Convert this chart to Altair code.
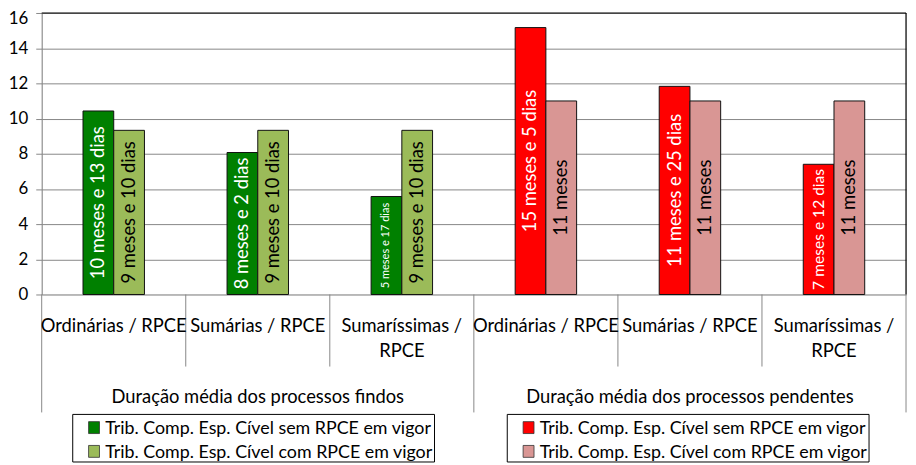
import altair as alt
import pandas as pd

# ---------------- data ----------------
grupos = ["Duração média dos processos findos", "Duração média dos processos pendentes"]
categorias = ["Ordinárias / RPCE", "Sumárias / RPCE", "Sumaríssimas /\nRPCE"]
series = ["Trib. Comp. Esp. Cível sem RPCE em vigor", "Trib. Comp. Esp. Cível com RPCE em vigor"]
ticks_y = [0, 2, 4, 6, 8, 10, 12, 14, 16]

findos_sem = [10.43, 8.07, 5.57]
findos_com = [9.33, 9.33, 9.33]
pend_sem = [15.17, 11.83, 7.40]
pend_com = [11.0, 11.0, 11.0]

rot_findos_sem = ["10 meses e 13 dias", "8 meses e 2 dias", "5 meses e 17 dias"]
rot_findos_com = ["9 meses e 10 dias", "9 meses e 10 dias", "9 meses e 10 dias"]
rot_pend_sem = ["15 meses e 5 dias", "11 meses e 25 dias", "7 meses e 12 dias"]
rot_pend_com = ["11 meses", "11 meses", "11 meses"]

cores_findos = ["#008000", "#9BBB59"]
cores_pend = ["#FF0000", "#D99694"]

# ---------------- tables ----------------
linhas, chaves = [], []
blocos = [
    (findos_sem, findos_com, rot_findos_sem, rot_findos_com),
    (pend_sem, pend_com, rot_pend_sem, rot_pend_com),
]
for gi, (sem, com, rs, rc) in enumerate(blocos):
    for ci, cat in enumerate(categorias):
        chave = f"{gi}-{ci}"
        chaves.append(chave)
        linhas.append(dict(chave=chave, grupo=grupos[gi], categoria=cat, serie=series[0],
                           gs=f"{gi}-0", valor=sem[ci], rotulo=rs[ci]))
        linhas.append(dict(chave=chave, grupo=grupos[gi], categoria=cat, serie=series[1],
                           gs=f"{gi}-1", valor=com[ci], rotulo=rc[ci]))
df = pd.DataFrame(linhas)
df_cats = pd.DataFrame({"chave": chaves, "categoria": categorias * len(grupos)})
df_grupos = pd.DataFrame({"chave": [f"{gi}-1" for gi in range(len(grupos))], "grupo": grupos})

W, H = 872, 284
FONT = "Lato"
FS = 18.5
FS_EIXO = 17
FS_LEG = 18
GRID = "#878787"
BANDA = W / len(chaves)
LARG = 31  # bar width in px

EIXO_Y = alt.Axis(values=ticks_y, title=None, grid=True,
                  gridColor=GRID, domainColor=GRID, tickColor=GRID, tickSize=6,
                  labelPadding=8, labelFontSize=FS_EIXO, labelFont=FONT,
                  labelColor="black", labelOverlap=False,
                  labelOffset=alt.expr(f"datum.value == {ticks_y[-1]} ? 6 : 0"))


def xenc(band=None):
    kw = {}
    if band is not None:
        kw["bandPosition"] = band
    return alt.X("chave:N", scale=alt.Scale(domain=chaves, paddingInner=0, paddingOuter=0),
                 axis=None, **kw)


def yenc(campo):
    return alt.Y(campo, scale=alt.Scale(domain=[0, 16], nice=False), axis=EIXO_Y)


xoff = alt.XOffset("serie:N", scale=alt.Scale(
    domain=series, paddingInner=0, paddingOuter=0,
    range=[BANDA / 2 - LARG, BANDA / 2 + LARG]))

barras = alt.Chart(df).mark_bar(stroke="#111111", strokeWidth=1).encode(
    x=xenc(),
    xOffset=xoff,
    y=yenc("valor:Q"),
    color=alt.Color("gs:N", scale=alt.Scale(domain=["0-0", "0-1", "1-0", "1-1"],
                                            range=cores_findos + cores_pend), legend=None),
)

rotulos = alt.Chart(df).transform_calculate(
    meio="datum.valor / 2",
    fs=f"datum.valor < 6 ? {FS*0.6:.2f} : (datum.valor < 8 ? {FS*0.85:.2f} : {FS})",
).mark_text(angle=270, align="center", baseline="middle", font=FONT).encode(
    x=xenc(),
    xOffset=xoff,
    y=yenc("meio:Q"),
    text="rotulo:N",
    size=alt.Size("fs:Q", scale=None),
    color=alt.condition(alt.FieldEqualPredicate(field="serie", equal=series[0]),
                        alt.value("white"), alt.value("black")),
)

# borders top / right (plot-area frame)
topo = alt.Chart(pd.DataFrame({"v": [ticks_y[-1]]})).mark_rule(
    color="#000000", strokeWidth=1.2).encode(y=yenc("v:Q"))
direita = alt.Chart(df_cats.tail(1)).mark_rule(
    color="#000000", strokeWidth=1.2).encode(x=xenc(1))

# category dividers
curtos = alt.Chart(df_cats[~df_cats.chave.str.endswith("-0")]).mark_rule(
    color=GRID, strokeWidth=1).encode(x=xenc(0), y=alt.value(H), y2=alt.value(356.7))
longos = alt.Chart(df_cats[df_cats.chave.str.endswith("-0")]).mark_rule(
    color=GRID, strokeWidth=1).encode(x=xenc(0), y=alt.value(H), y2=alt.value(403))
fim = alt.Chart(df_cats.tail(1)).mark_rule(color=GRID, strokeWidth=1).encode(
    x=xenc(1), y=alt.value(H), y2=alt.value(403))

txt_cats = alt.Chart(df_cats).mark_text(
    baseline="alphabetic", align="center", lineBreak="\n", lineHeight=24.4,
    fontSize=FS, font=FONT, color="black").encode(x=xenc(), y=alt.value(322.3), text="categoria:N")

txt_grupos = alt.Chart(df_grupos).mark_text(
    baseline="alphabetic", align="center", fontSize=FS, font=FONT, color="black").encode(
    x=xenc(), y=alt.value(393.3), text="grupo:N")


def legenda(x0, cores):
    camadas = [
        alt.Chart(pd.DataFrame({"a": [1]})).mark_rect(fill="white", stroke="black", strokeWidth=1)
        .encode(x=alt.value(x0), x2=alt.value(x0 + 365), y=alt.value(405), y2=alt.value(453))
    ]
    for r in range(2):
        camadas.append(
            alt.Chart(pd.DataFrame({"serie": [series[r]]})).mark_rect(
                fill=cores[r], stroke="#333333", strokeWidth=0.8)
            .encode(x=alt.value(x0 + 16), x2=alt.value(x0 + 27),
                    y=alt.value(412.3 + 24 * r), y2=alt.value(424.3 + 24 * r)))
        camadas.append(
            alt.Chart(pd.DataFrame({"serie": [series[r]]})).mark_text(
                align="left", baseline="alphabetic", fontSize=FS_LEG, font=FONT, color="black")
            .encode(x=alt.value(x0 + 32.7), y=alt.value(424.7 + 24 * r), text="serie:N"))
    return camadas


chart = alt.layer(
    barras, rotulos, topo, direita, curtos, longos, fim, txt_cats, txt_grupos,
    *legenda(31.3, cores_findos), *legenda(469.7, cores_pend)
).properties(
    width=W, height=H,
    padding={"left": 34, "top": 3, "right": 2, "bottom": 170},
    autosize=alt.AutoSizeParams(type="none"),
    background="white",
).configure_view(stroke=None).configure(font=FONT)

chart.save("out.html", embed_options={"renderer": "svg", "actions": False})
